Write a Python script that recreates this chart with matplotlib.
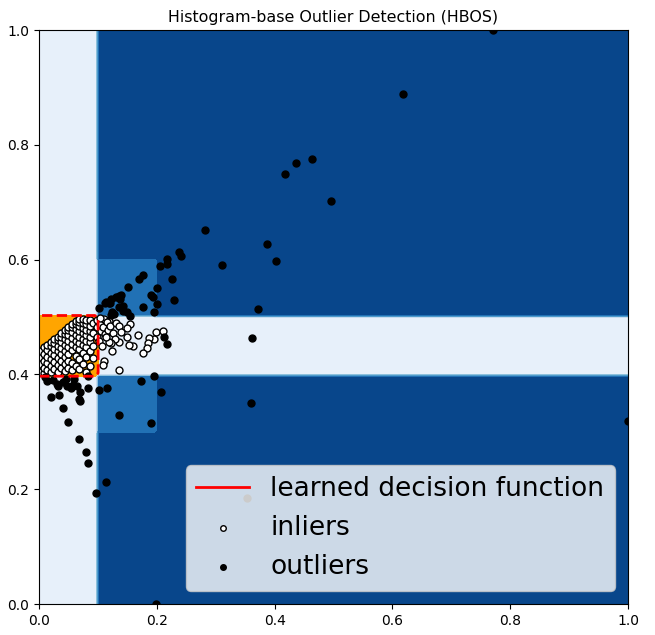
import numpy as np
import matplotlib
matplotlib.use("Agg")
import matplotlib.pyplot as plt
from matplotlib.lines import Line2D

# histogram bins (edges) and per-bin log density
x_edges = [0.0, 0.1, 0.2, 1.0]
x_logdens = [-0.85, -5.3, -6.0]
y_edges = [0.0, 0.3, 0.4, 0.5, 0.6, 1.0]
y_logdens = [-6.0, -5.3, -0.85, -5.3, -6.0]
threshold = -6.0

inliers = [
    (0.002, 0.405), (0.002, 0.418), (0.002, 0.430), (0.002, 0.441),
    (0.008, 0.402), (0.008, 0.412), (0.008, 0.424), (0.008, 0.436), (0.008, 0.447),
    (0.014, 0.408), (0.014, 0.419), (0.014, 0.431), (0.014, 0.443), (0.014, 0.451),
    (0.020, 0.404), (0.020, 0.415), (0.020, 0.426), (0.020, 0.438), (0.020, 0.449), (0.020, 0.457),
    (0.026, 0.410), (0.026, 0.421), (0.026, 0.433), (0.026, 0.444), (0.026, 0.455), (0.026, 0.462),
    (0.032, 0.405), (0.032, 0.416), (0.032, 0.428), (0.032, 0.440), (0.032, 0.450), (0.032, 0.460),
    (0.032, 0.466),
    (0.038, 0.411), (0.038, 0.423), (0.038, 0.435), (0.038, 0.446), (0.038, 0.456), (0.038, 0.466),
    (0.038, 0.472),
    (0.044, 0.406), (0.044, 0.418), (0.044, 0.430), (0.044, 0.441), (0.044, 0.452), (0.044, 0.462),
    (0.044, 0.471), (0.044, 0.477),
    (0.050, 0.412), (0.050, 0.424), (0.050, 0.436), (0.050, 0.447), (0.050, 0.458), (0.050, 0.468),
    (0.050, 0.478), (0.050, 0.483),
    (0.056, 0.407), (0.056, 0.420), (0.056, 0.442), (0.056, 0.453), (0.056, 0.463), (0.056, 0.473),
    (0.056, 0.482), (0.056, 0.488),
    (0.062, 0.414), (0.062, 0.432), (0.062, 0.448), (0.062, 0.459), (0.062, 0.469), (0.062, 0.479),
    (0.062, 0.487), (0.062, 0.493),
    (0.068, 0.409), (0.068, 0.426), (0.068, 0.444), (0.068, 0.455), (0.068, 0.465), (0.068, 0.475),
    (0.068, 0.484), (0.068, 0.492), (0.068, 0.497),
    (0.074, 0.418), (0.074, 0.438), (0.074, 0.452), (0.074, 0.462), (0.074, 0.472), (0.074, 0.481),
    (0.074, 0.490), (0.074, 0.497),
    (0.080, 0.405), (0.080, 0.430), (0.080, 0.447), (0.080, 0.459), (0.080, 0.469), (0.080, 0.478),
    (0.080, 0.487), (0.080, 0.495),
    (0.086, 0.414), (0.086, 0.441), (0.086, 0.456), (0.086, 0.466), (0.086, 0.476), (0.086, 0.485),
    (0.086, 0.494),
    (0.092, 0.428), (0.092, 0.450), (0.092, 0.472), (0.092, 0.490),
    (0.098, 0.465), (0.098, 0.482), (0.098, 0.495),
    (0.104, 0.488), (0.106, 0.476), (0.110, 0.497), (0.112, 0.470), (0.103, 0.498),
    (0.108, 0.483), (0.117, 0.478), (0.102, 0.458), (0.126, 0.472), (0.118, 0.493),
    (0.115, 0.492), (0.121, 0.484), (0.131, 0.490), (0.136, 0.484), (0.155, 0.488),
    (0.150, 0.480), (0.168, 0.469), (0.198, 0.474), (0.195, 0.462), (0.186, 0.464),
    (0.185, 0.454), (0.183, 0.446), (0.177, 0.437), (0.159, 0.450), (0.152, 0.451),
    (0.149, 0.466), (0.135, 0.456), (0.129, 0.461), (0.123, 0.454), (0.119, 0.457),
    (0.124, 0.440), (0.111, 0.424), (0.109, 0.416), (0.135, 0.407), (0.211, 0.476),
    (0.140, 0.473), (0.107, 0.450), (0.113, 0.466),
]

outliers = [
    (0.771, 1.000), (0.618, 0.888), (0.495, 0.702), (0.464, 0.776), (0.437, 0.769),
    (0.418, 0.749), (0.281, 0.652), (0.387, 0.627), (0.402, 0.598), (0.310, 0.590),
    (0.372, 0.514), (0.238, 0.613), (0.241, 0.607), (0.217, 0.601), (0.217, 0.593),
    (0.205, 0.589), (0.225, 0.567), (0.201, 0.550), (0.230, 0.530), (0.201, 0.522),
    (0.195, 0.508), (0.177, 0.517), (0.190, 0.538), (0.193, 0.534), (0.176, 0.574),
    (0.169, 0.567), (0.151, 0.552), (0.139, 0.539), (0.135, 0.536), (0.131, 0.534),
    (0.123, 0.531), (0.119, 0.524), (0.112, 0.524), (0.135, 0.518), (0.102, 0.515),
    (0.124, 0.509), (0.143, 0.511), (0.149, 0.509), (0.155, 0.501), (0.123, 0.503),
    (0.114, 0.527), (0.121, 0.525), (0.128, 0.505), (0.143, 0.519), (0.138, 0.531),
    (0.212, 0.466), (0.217, 0.453), (0.362, 0.463), (0.360, 0.350), (0.195, 0.398),
    (0.174, 0.388), (0.207, 0.370), (0.136, 0.329), (0.190, 0.316), (0.116, 0.377),
    (0.102, 0.373), (0.083, 0.376), (0.083, 0.398), (0.069, 0.370), (0.068, 0.357),
    (0.070, 0.353), (0.058, 0.382), (0.054, 0.376), (0.047, 0.379), (0.033, 0.379),
    (0.030, 0.383), (0.024, 0.390), (0.020, 0.361), (0.034, 0.364), (0.040, 0.341),
    (0.049, 0.317), (0.068, 0.287), (0.080, 0.264), (0.084, 0.245), (0.097, 0.193),
    (0.113, 0.213), (0.199, 0.000), (0.353, 0.184), (1.000, 0.319), (0.013, 0.389),
    (0.010, 0.395), (0.045, 0.392), (0.060, 0.392), (0.040, 0.386), (0.065, 0.380),
]

inliers = np.array(inliers)
outliers = np.array(outliers)

# piecewise constant HBOS score on a grid
xx, yy = np.meshgrid(np.linspace(0, 1, 180), np.linspace(0, 1, 180))
ix = np.clip(np.searchsorted(x_edges, xx, side='right') - 1, 0, len(x_logdens) - 1)
iy = np.clip(np.searchsorted(y_edges, yy, side='right') - 1, 0, len(y_logdens) - 1)
Z = np.array(x_logdens)[ix] + np.array(y_logdens)[iy]

fig = plt.figure(figsize=(6.55, 6.35), dpi=100)
ax = fig.add_axes([39/655, 31/635, 589/655, 574/635])
ax.set_title('Histogram-base Outlier Detection (HBOS)', fontsize=11.4)
ax.contourf(xx, yy, Z, levels=np.linspace(Z.min(), threshold, 7), cmap=plt.cm.Blues_r)
ax.contour(xx, yy, Z, levels=[threshold], linewidths=2, colors='red')
ax.contourf(xx, yy, Z, levels=[threshold, Z.max()], colors='orange')
b = ax.scatter(inliers[:, 0], inliers[:, 1], c='white', s=25, edgecolor='k')
c = ax.scatter(outliers[:, 0], outliers[:, 1], c='black', s=25, edgecolor='k')
ax.set_xlim(0, 1)
ax.set_ylim(0, 1)
ax.legend([Line2D([], [], color='red', lw=2), b, c],
          ['learned decision function', 'inliers', 'outliers'],
          prop={'size': 19}, loc='lower right', markerscale=0.8)
fig.savefig('out.png', dpi=100)
